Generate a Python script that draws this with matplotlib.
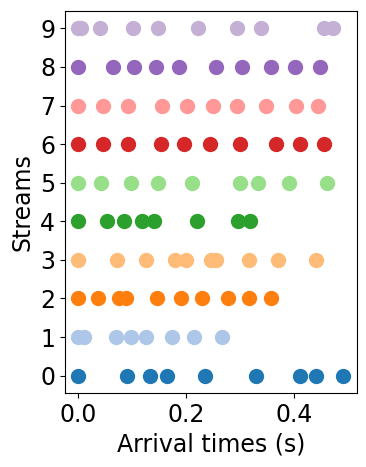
import matplotlib
matplotlib.use("Agg")
import matplotlib.pyplot as plt

# arrival times (s) per stream
stream0 = [0.0, 0.091, 0.134, 0.164, 0.236, 0.330, 0.411, 0.441, 0.492]
stream1 = [0.0, 0.010, 0.070, 0.098, 0.125, 0.173, 0.215, 0.267]
stream2 = [0.0, 0.037, 0.076, 0.088, 0.147, 0.191, 0.230, 0.277, 0.317, 0.357]
stream3 = [0.0, 0.071, 0.125, 0.179, 0.200, 0.246, 0.255, 0.316, 0.371, 0.441]
stream4 = [0.0, 0.053, 0.084, 0.119, 0.141, 0.220, 0.296, 0.318]
stream5 = [0.0, 0.043, 0.098, 0.148, 0.211, 0.301, 0.334, 0.391, 0.462]
stream6 = [0.0, 0.046, 0.093, 0.153, 0.196, 0.244, 0.301, 0.367, 0.412, 0.455]
stream7 = [0.0, 0.046, 0.092, 0.155, 0.201, 0.250, 0.294, 0.348, 0.404, 0.445]
stream8 = [0.0, 0.065, 0.103, 0.145, 0.186, 0.256, 0.303, 0.357, 0.403, 0.449]
stream9 = [0.0, 0.006, 0.040, 0.101, 0.148, 0.222, 0.294, 0.339, 0.456, 0.473]

streams = [stream0, stream1, stream2, stream3, stream4,
           stream5, stream6, stream7, stream8, stream9]

fig = plt.figure(figsize=(3.66, 4.67), dpi=100)
ax = fig.add_axes([0.1776, 0.1585, 0.797, 0.818])

cmap = plt.get_cmap("tab20")
for i, times in enumerate(streams):
    ax.scatter(times, [i] * len(times), s=100, color=cmap(i))

ax.set_yticks(range(10))
ax.tick_params(labelsize=17)
ax.set_xlabel("Arrival times (s)", fontsize=17)
ax.set_ylabel("Streams", fontsize=17)

fig.savefig("out.png", dpi=100)
